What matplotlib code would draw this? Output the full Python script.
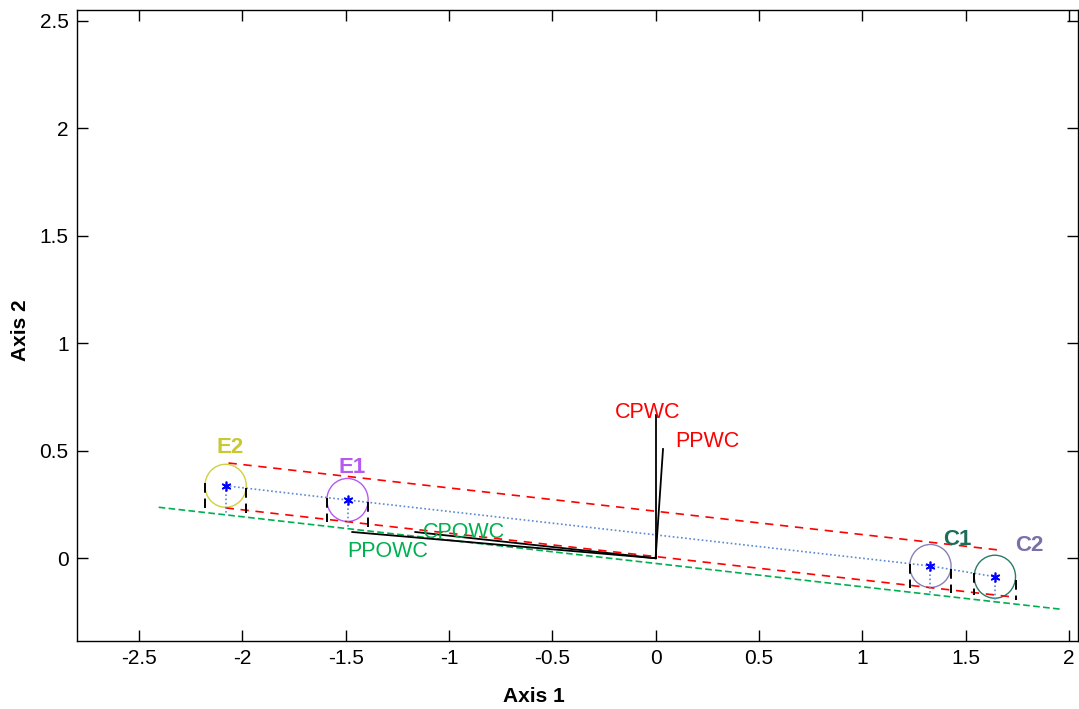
import numpy as np
import matplotlib
matplotlib.use("Agg")
import matplotlib.pyplot as plt
from matplotlib.patches import Ellipse

plt.rcParams['font.family'] = ['Liberation Sans', 'DejaVu Sans']

# ---- data ----
names = ["E2", "E1", "C1", "C2"]
cx = [-2.081, -1.491, 1.330, 1.642]
cy = [0.337, 0.271, -0.036, -0.086]
radius = 0.10
label_colors = ["#c8c832", "#b45af0", "#1a6e5a", "#7b6fa8"]
circle_colors = ["#d0d040", "#b45af0", "#8a80b8", "#2a7a6a"]
label_dx = [0.022, 0.021, 0.129, 0.168]
label_dy = [0.176, 0.149, 0.121, 0.147]

green_x = [-2.405, 1.969]
green_y = [0.237, -0.238]
red_up_x = [-2.067, 1.655]
red_up_y = [0.443, 0.039]
red_lo_x = [-2.081, 1.727]
red_lo_y = [0.234, -0.180]

cpwc = (0.0, 0.667)
ppwc = (0.036, 0.508)
cpowc = (-1.163, 0.122)
ppowc = (-1.468, 0.122)

vec_labels = ["CPWC", "PPWC", "CPOWC", "PPOWC"]
vec_label_x = [-0.04, 0.249, -0.928, -1.298]
vec_label_y = [0.676, 0.541, 0.118, 0.029]
vec_label_colors = ["red", "red", "#00b050", "#00b050"]

xlim = (-2.8, 2.044)
ylim = (-0.385, 2.55)
xticks = [-2.5, -2, -1.5, -1, -0.5, 0, 0.5, 1, 1.5, 2]
xticklabels = ["-2.5", "-2", "-1.5", "-1", "-0.5", "0", "0.5", "1", "1.5", "2"]
yticks = [0, 0.5, 1, 1.5, 2, 2.5]
yticklabels = ["0", "0.5", "1", "1.5", "2", "2.5"]

fig = plt.figure(figsize=(10.79, 7.09), dpi=100)
ax = fig.add_axes([0.0714, 0.0959, 0.9276, 0.8900])


def green_at(x):
    k = (green_y[1] - green_y[0]) / (green_x[1] - green_x[0])
    return green_y[0] + k * (x - green_x[0])


def center_at(x):
    if x < cx[0]:
        return cy[0] + (cy[1] - cy[0]) / (cx[1] - cx[0]) * (x - cx[0])
    if x > cx[-1]:
        return cy[-2] + (cy[-1] - cy[-2]) / (cx[-1] - cx[-2]) * (x - cx[-2])
    return float(np.interp(x, cx, cy))


# green dashed line
ax.plot(green_x, green_y, color="#00b050", ls=(0, (4, 2)), lw=1.2)
# red dashed tangent lines
ax.plot(red_up_x, red_up_y, color="red", ls=(0, (5, 4)), lw=1.2)
ax.plot(red_lo_x, red_lo_y, color="red", ls=(0, (5, 4)), lw=1.2)
# blue dotted center line
ax.plot(cx, cy, color="#5a8ad0", ls=(0, (1, 1.5)), lw=1.2)

for i in range(len(names)):
    for s in (-1, 1):
        xs = cx[i] + s * radius
        ax.plot([xs, xs], [center_at(xs), green_at(xs) + 0.02], color="black",
                ls=(0, (5, 3)), lw=1.4)
    ax.plot([cx[i], cx[i]], [cy[i], green_at(cx[i])], color="#5a8ad0",
            ls=(0, (1, 1.5)), lw=1.2)
    ax.add_patch(Ellipse((cx[i], cy[i]), 2 * radius, 2 * radius, fill=False,
                         edgecolor=circle_colors[i], lw=1.0))
    ax.plot(cx[i], cy[i], marker=(6, 2, 0), color="blue", ms=7, mew=1.2)
    ax.text(cx[i] + label_dx[i], cy[i] + label_dy[i], names[i], color=label_colors[i],
            fontsize=16, fontweight="bold", ha="center", va="center")

for (ex, ey) in (cpwc, ppwc, cpowc, ppowc):
    ax.plot([0, ex], [0, ey], color="black", lw=1.3)

for t, x, y, c in zip(vec_labels, vec_label_x, vec_label_y, vec_label_colors):
    ax.text(x, y, t, color=c, fontsize=15.5, ha="center", va="center")

ax.set_xlim(*xlim)
ax.set_ylim(*ylim)
ax.set_xticks(xticks)
ax.set_xticklabels(xticklabels)
ax.set_yticks(yticks)
ax.set_yticklabels(yticklabels)
ax.tick_params(direction="in", length=8, width=1, top=True, right=True,
               labelsize=15, pad=6)
for sp in ax.spines.values():
    sp.set_linewidth(1.0)

fig.text(534 / 1079, 1 - 697 / 709, "Axis 1", fontsize=15, fontweight="bold",
         ha="center", va="center")
fig.text(20.5 / 1079, 1 - 330 / 709, "Axis 2", fontsize=15, fontweight="bold",
         ha="center", va="center", rotation=90)

fig.savefig("out.png", dpi=100)
